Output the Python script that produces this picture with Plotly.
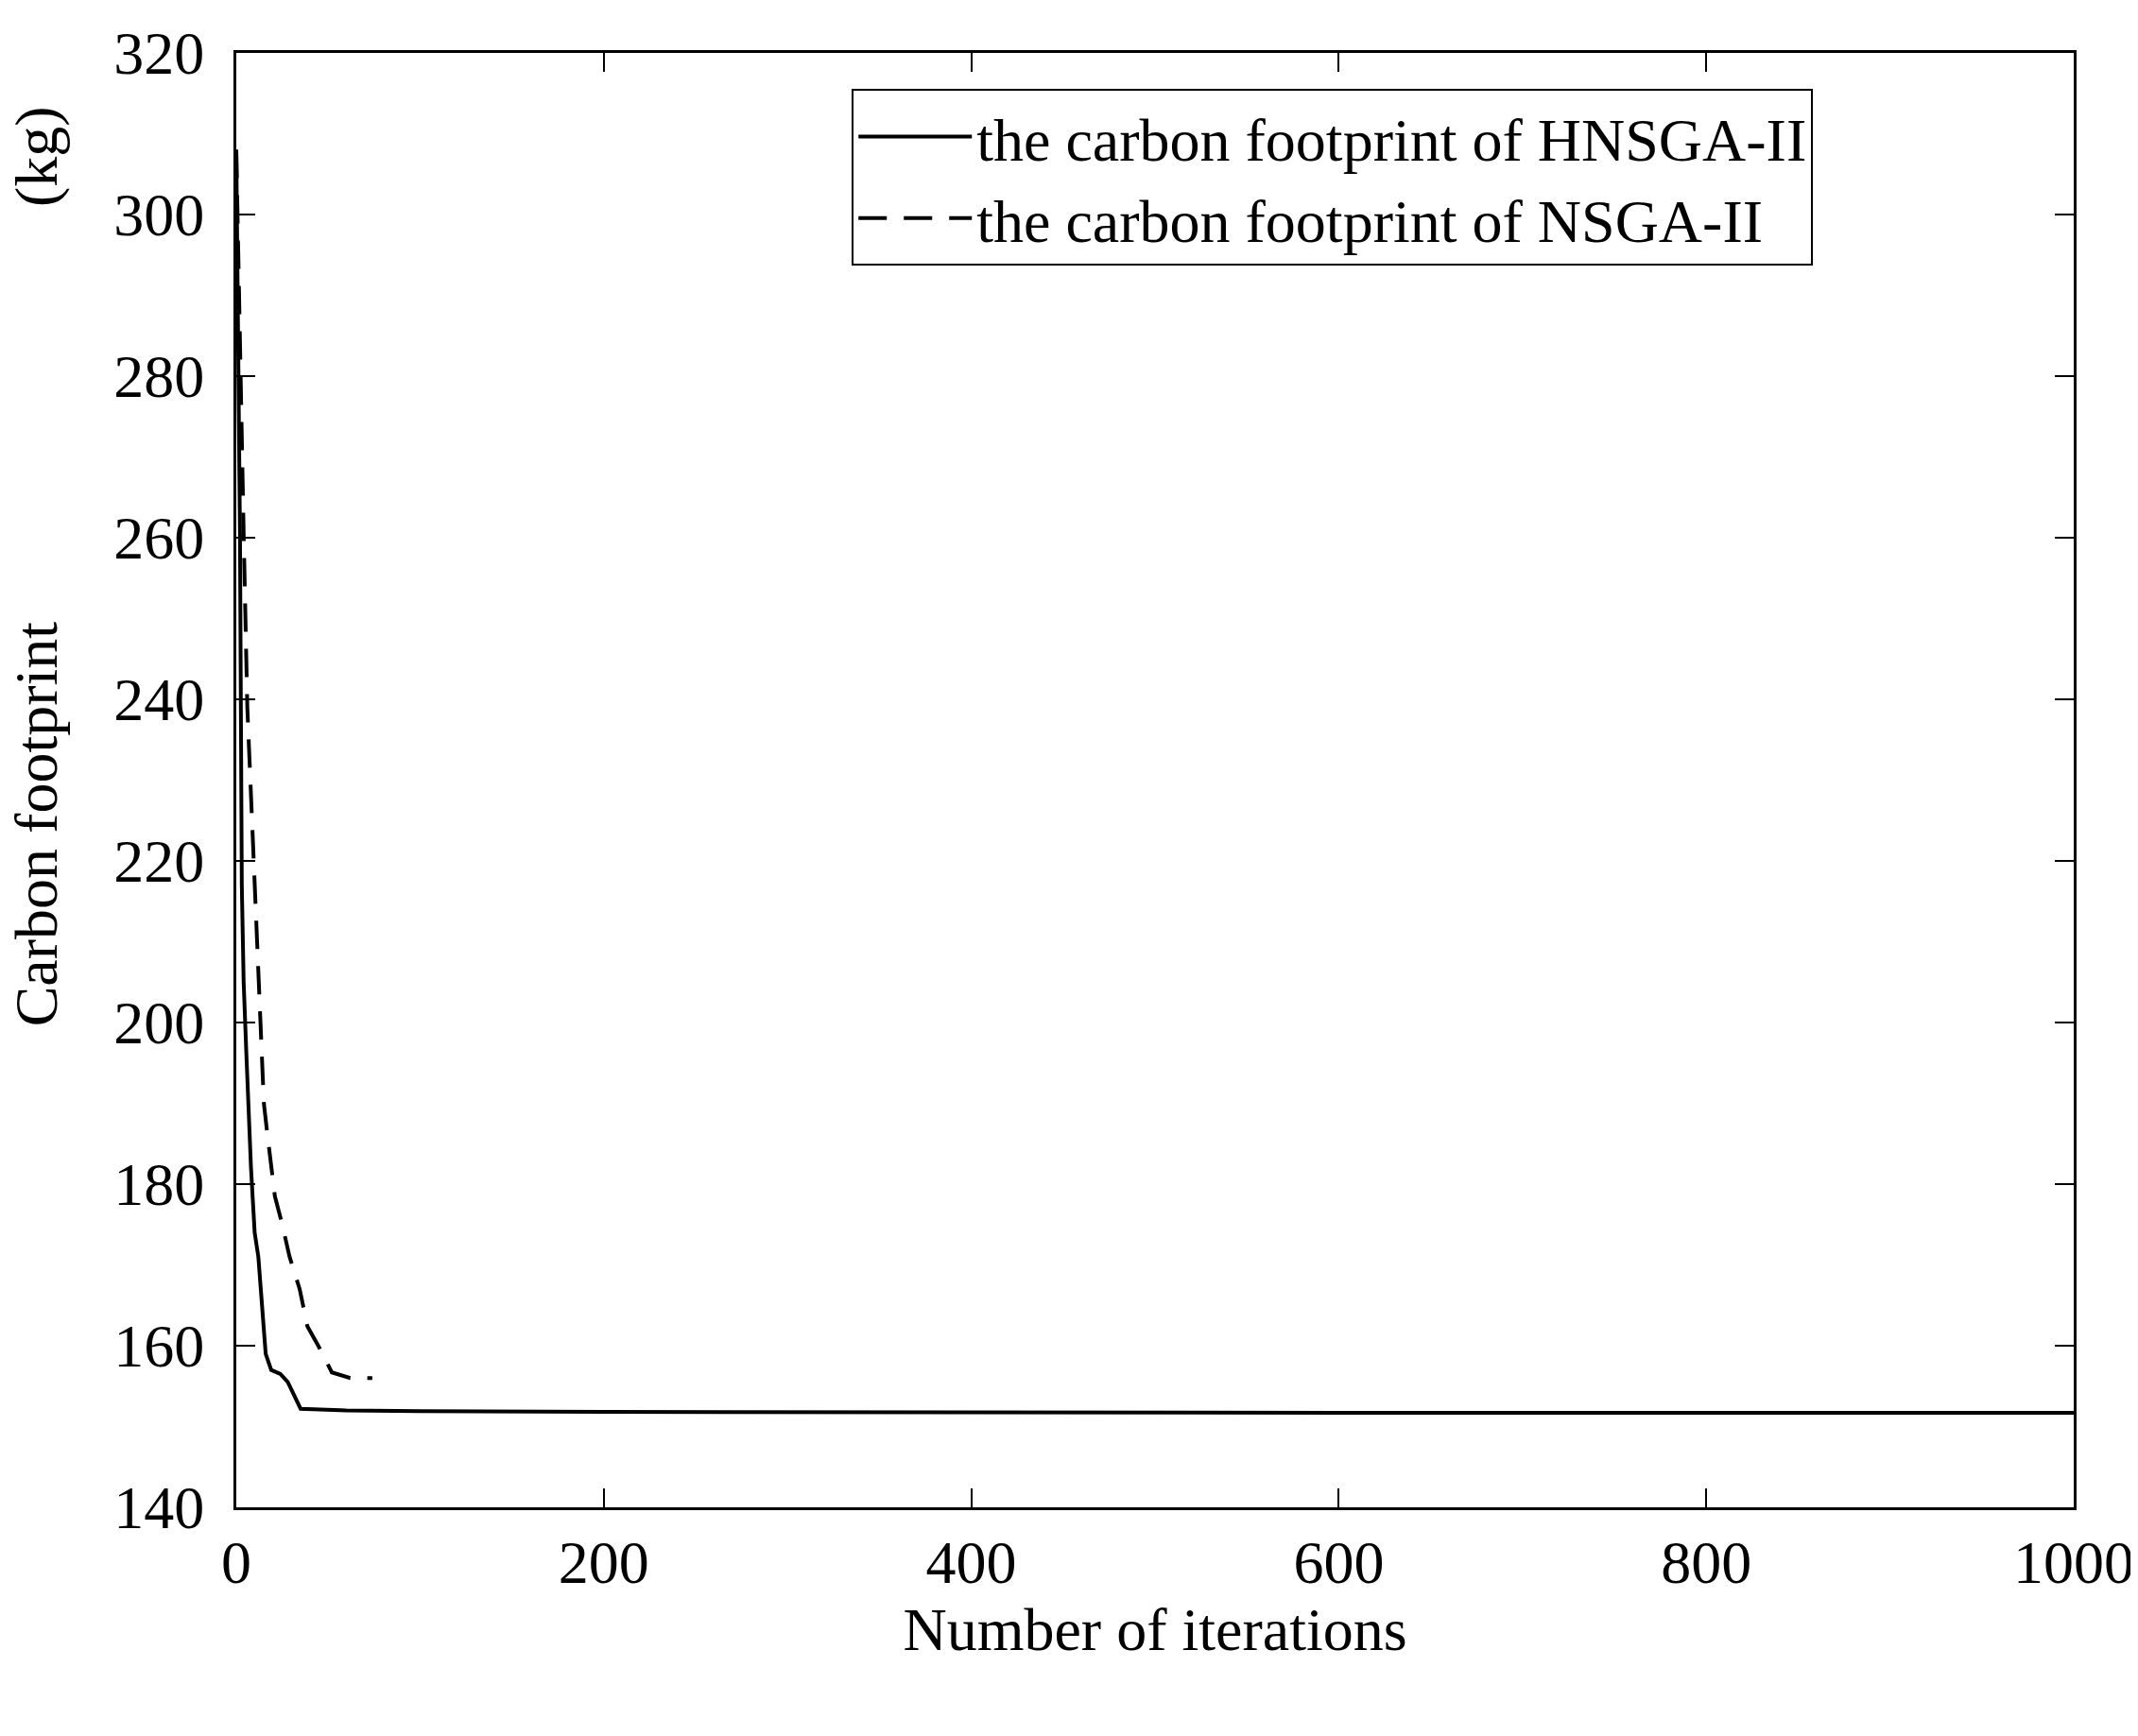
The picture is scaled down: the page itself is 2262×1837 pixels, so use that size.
import plotly.graph_objects as go

# iterations and carbon footprint values (kg)
hn_iter = [0, 1, 2, 3, 4, 5.5, 8, 10, 12, 14, 16, 19, 24, 28, 32, 35, 60, 100, 200, 400, 600, 800, 1000]
hn_vals = [308, 285, 260.6, 217, 205, 196, 182, 174, 171, 165, 159, 157, 156.5, 155.5, 153.5, 152.2, 152.0, 151.9, 151.8, 151.7, 151.7, 151.7, 151.7]

ns_iter = [0, 1, 2, 4, 6, 10, 15, 17, 21, 25, 29, 34.5, 38.7, 44.6, 52, 62, 74]
ns_vals = [308, 295, 280, 260.6, 239, 217, 190, 186, 178.5, 175, 171, 167, 162.4, 160, 156.7, 156, 156]

font = "Liberation Serif"

fig = go.Figure()
fig.add_trace(go.Scatter(x=hn_iter, y=hn_vals, mode="lines",
                         name="the carbon footprint of HNSGA-II",
                         line=dict(color="black", width=4)))
fig.add_trace(go.Scatter(x=ns_iter, y=ns_vals, mode="lines",
                         name="the carbon footprint of NSGA-II",
                         line=dict(color="black", width=4, dash="30px,18px")))

axis_style = dict(showline=True, linecolor="black", linewidth=3, mirror="ticks",
                  ticks="inside", ticklen=20, tickwidth=2, tickcolor="black",
                  showgrid=False, zeroline=False,
                  tickfont=dict(family=font, size=64, color="black"))

fig.update_xaxes(range=[0, 1000], dtick=200, **axis_style,
                 title=dict(text="Number of iterations", standoff=10,
                            font=dict(family=font, size=64, color="black")))
fig.update_yaxes(range=[140, 320], dtick=20, ticklabelstandoff=18, **axis_style)

fig.add_annotation(text="Carbon footprint", textangle=-90, x=-0.128, y=0.47,
                   xref="paper", yref="paper", showarrow=False,
                   font=dict(family=font, size=64, color="black"))
fig.add_annotation(text="(kg)", textangle=-90, x=-0.128, y=0.965,
                   xref="paper", yref="paper", showarrow=False,
                   font=dict(family=font, size=64, color="black"))

fig.update_layout(width=2262, height=1837, plot_bgcolor="white", paper_bgcolor="white",
                  margin=dict(l=242, r=65, t=48, b=250),
                  legend=dict(x=0.335, y=0.975, xanchor="left", yanchor="top",
                              bgcolor="white", bordercolor="black", borderwidth=2,
                              font=dict(family=font, size=64, color="black"),
                              itemwidth=120, tracegroupgap=0))

fig.write_html("out.html")
